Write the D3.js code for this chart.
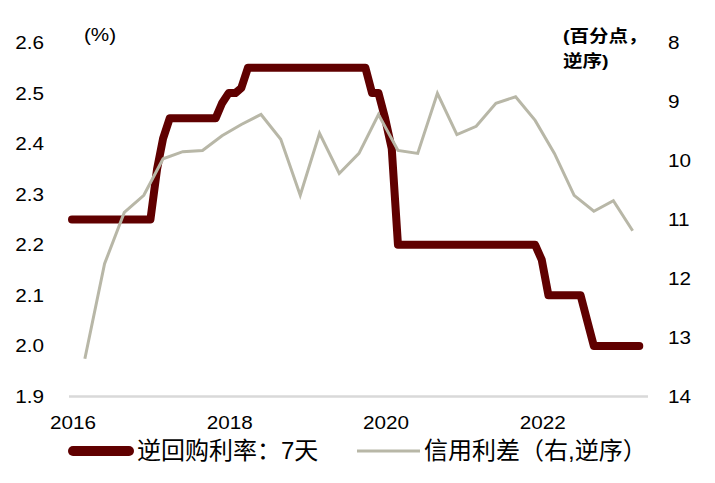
<!DOCTYPE html>
<html>
<head>
<meta charset="utf-8">
<script src="https://cdn.jsdelivr.net/npm/d3@7"></script>
<style>
  html, body { margin: 0; padding: 0; background: #fff; }
  svg { display: block; }
  text { font-family: "Liberation Sans", Arial, "Noto Sans CJK SC", sans-serif; fill: #000; }
</style>
</head>
<body>
<svg id="chart" width="715" height="483"></svg>
<script>
// ---- Data ----
const repoStartMonth = "2016-01";           // monthly series starts here
const repo2016 = [2.25,2.25,2.25,2.25,2.25,2.25,2.25,2.25,2.25,2.25,2.25,2.25];
const repo2017 = [2.25,2.35,2.41,2.45,2.45,2.45,2.45,2.45,2.45,2.45,2.45,2.48];
const repo2018 = [2.50,2.50,2.51,2.55,2.55,2.55,2.55,2.55,2.55,2.55,2.55,2.55];
const repo2019 = [2.55,2.55,2.55,2.55,2.55,2.55,2.55,2.55,2.55,2.55,2.50,2.50];
const repo2020 = [2.45,2.39,2.20,2.20,2.20,2.20,2.20,2.20,2.20,2.20,2.20,2.20];
const repo2021 = [2.20,2.20,2.20,2.20,2.20,2.20,2.20,2.20,2.20,2.20,2.20,2.20];
const repo2022 = [2.17,2.10,2.10,2.10,2.10,2.10,2.10,2.05,2.00,2.00,2.00,2.00];
const repo2023 = [2.00,2.00,2.00,2.00];

const spreadDates = ["2016-03","2016-06","2016-09","2016-12","2017-03","2017-06","2017-09","2017-12",
  "2018-03","2018-06","2018-09","2018-12","2019-03","2019-06","2019-09","2019-12",
  "2020-03","2020-06","2020-09","2020-12","2021-03","2021-06","2021-09","2021-12",
  "2022-03","2022-06","2022-09","2022-12","2023-03"];
const spreadValues = [13.36,11.75,10.88,10.59,9.97,9.85,9.83,9.58,
  9.39,9.22,9.64,10.59,9.54,10.22,9.88,9.22,
  9.83,9.88,8.86,9.56,9.42,9.03,8.92,9.32,
  9.88,10.59,10.86,10.68,11.19];

const leftTicks = [1.9,2.0,2.1,2.2,2.3,2.4,2.5,2.6];
const rightTicks = [8,9,10,11,12,13,14];
const xTickYears = ["2016","2018","2020","2022"];

const seriesNames = ["逆回购利率：7天", "信用利差（右,逆序）"];
const leftUnit = "(%)";
const rightUnit = ["(百分点，", "逆序)"];

// ---- Build ----
const parseMonth = d3.timeParse("%Y-%m");
const repoValues = [].concat(repo2016, repo2017, repo2018, repo2019, repo2020, repo2021, repo2022, repo2023);
const repoStart = parseMonth(repoStartMonth);
const repoData = repoValues.map((v, i) => ({ date: d3.timeMonth.offset(repoStart, i), value: v }));
const spreadData = spreadDates.map((d, i) => ({ date: parseMonth(d), value: spreadValues[i] }));

const svg = d3.select("#chart");
const colRepo = "#600000";
const colSpread = "#b8b7a7";
const SX = 1.15; // horizontal stretch of the original's lettering

const x = d3.scaleTime()
  .domain([new Date(2016, 0, 1), new Date(2023, 0, 1)])
  .range([72, 620]);
const yL = d3.scaleLinear().domain([1.9, 2.6]).range([396.5, 42.5]);
const yR = d3.scaleLinear().domain([8, 14]).range([42.5, 396.5]);

// baseline
svg.append("line")
  .attr("x1", 69).attr("x2", 648)
  .attr("y1", yL(1.9)).attr("y2", yL(1.9))
  .attr("stroke", "#d9d9d9").attr("stroke-width", 2.5);

function stretched(sel, fx, fy) {
  return sel.attr("transform", (d, i) => `translate(${fx(d, i)},${fy(d, i)}) scale(${SX},1)`);
}

// left axis labels
stretched(svg.append("g").selectAll("text").data(leftTicks).join("text"),
    () => 44, d => yL(d))
  .attr("dy", "0.36em")
  .attr("text-anchor", "end")
  .attr("font-size", 18)
  .text(d => d.toFixed(1));

// right axis labels
stretched(svg.append("g").selectAll("text").data(rightTicks).join("text"),
    () => 668, d => yR(d))
  .attr("dy", "0.36em")
  .attr("text-anchor", "start")
  .attr("font-size", 18)
  .text(d => d);

// x labels
stretched(svg.append("g").selectAll("text").data(xTickYears).join("text"),
    d => x(new Date(+d, 0, 1)) + 1, () => 429)
  .attr("text-anchor", "middle")
  .attr("font-size", 18)
  .text(d => d);

// unit labels
stretched(svg.append("g").selectAll("text").data([leftUnit]).join("text"),
    () => 100, () => 41)
  .attr("text-anchor", "middle")
  .attr("font-size", 18).text(d => d);
stretched(svg.append("g").selectAll("text").data(rightUnit).join("text"),
    () => 563, (d, i) => 42 + i * 25)
  .attr("font-size", 17).attr("font-weight", "bold")
  .text(d => d);

// lines
const lineL = d3.line().x(d => x(d.date)).y(d => yL(d.value));
const lineR = d3.line().x(d => x(d.date)).y(d => yR(d.value));

svg.append("path").datum(repoData)
  .attr("d", lineL)
  .attr("fill", "none").attr("stroke", colRepo).attr("stroke-width", 8)
  .attr("stroke-linejoin", "round").attr("stroke-linecap", "round");

svg.append("path").datum(spreadData)
  .attr("d", lineR)
  .attr("fill", "none").attr("stroke", colSpread).attr("stroke-width", 3)
  .attr("stroke-linejoin", "miter");

// legend
const lg = svg.append("g");
lg.append("line").attr("x1", 73).attr("x2", 129).attr("y1", 451).attr("y2", 451)
  .attr("stroke", colRepo).attr("stroke-width", 10).attr("stroke-linecap", "round");
lg.append("text").attr("x", 137).attr("y", 459)
  .attr("font-size", 24).text(seriesNames[0]);
lg.append("line").attr("x1", 357).attr("x2", 420).attr("y1", 451).attr("y2", 451)
  .attr("stroke", colSpread).attr("stroke-width", 3);
lg.append("text").attr("x", 424).attr("y", 459)
  .attr("font-size", 24).text(seriesNames[1]);
</script>
</body>
</html>
